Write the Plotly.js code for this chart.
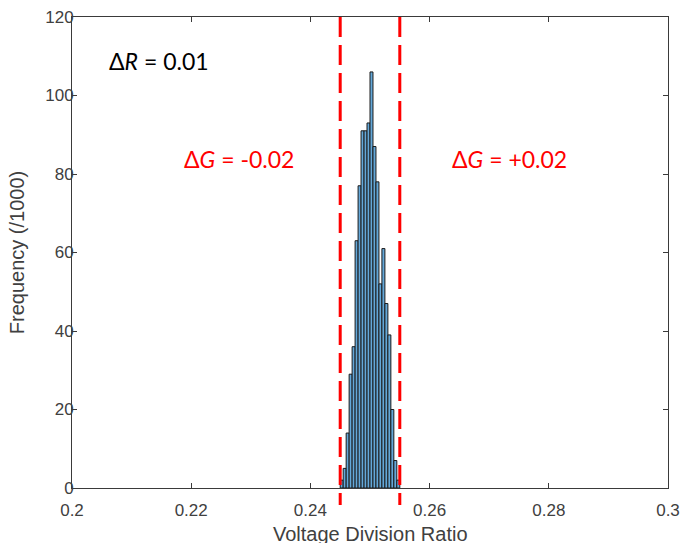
<!DOCTYPE html>
<html>
<head>
<meta charset="utf-8">
<script src="https://cdn.plot.ly/plotly-3.0.1.min.js"></script>
<style>html,body{margin:0;padding:0;background:#fff;}#chart{width:685px;height:543px;}</style>
</head>
<body>
<div id="chart"></div>
<script>
// Histogram bins (Voltage Division Ratio), bin width 0.0005
const binCenters = [0.24525,0.24575,0.24625,0.24675,0.24725,0.24775,0.24825,0.24875,0.24925,0.24975,
                    0.25025,0.25075,0.25125,0.25175,0.25225,0.25275,0.25325,0.25375,0.25425,0.25475];
const frequency = [2,5,14,29,36,63,77,91,91,93,106,87,78,52,61,47,39,20,7,2];
const binWidth = 0.0005;
const limitLines = [0.245, 0.255];
const xTicks = [0.2,0.22,0.24,0.26,0.28,0.3];
const yTicks = [0,20,40,60,80,100,120];
const xTitle = 'Voltage Division Ratio';
const yTitle = 'Frequency (/1000)';
const labels = [
  {text: 'Δ<i>R</i> = 0.01', x: 0.2058, y: 108.9, color: '#000000'},
  {text: 'Δ<i>G</i> = -0.02', x: 0.2185, y: 83.9, color: '#FF0000'},
  {text: 'Δ<i>G</i> = +0.02', x: 0.2635, y: 83.9, color: '#FF0000'}
];

const trace = {
  type: 'bar',
  x: binCenters,
  y: frequency,
  width: binWidth,
  marker: {color: '#64A8D9', line: {color: '#1a1a1a', width: 1}},
  hoverinfo: 'x+y'
};

const axisCommon = {
  showline: true, linecolor: '#3a3a3a', linewidth: 1, mirror: 'ticks',
  ticks: 'inside', ticklen: 5, tickcolor: '#3a3a3a', tickwidth: 1,
  showgrid: false, zeroline: false
};

const annots = labels.map(l => ({
  text: l.text, x: l.x, y: l.y, xref: 'x', yref: 'y', xanchor: 'left', yanchor: 'middle',
  showarrow: false, font: {family: 'Lato, Open Sans, sans-serif', size: 23, color: l.color}
}));
// x-axis title (placed as paper annotation so it can sit at the bottom edge like the original)
annots.push({
  text: xTitle, xref: 'paper', yref: 'paper', x: 0.5, y: -0.098, xanchor: 'center', yanchor: 'middle',
  showarrow: false, font: {family: 'Liberation Sans, Arial, sans-serif', size: 20, color: '#404040'}
});

const layout = {
  width: 685, height: 543,
  margin: {l: 72, r: 17, t: 17, b: 55},
  paper_bgcolor: '#ffffff', plot_bgcolor: '#ffffff',
  showlegend: false,
  bargap: 0,
  font: {family: 'Liberation Sans, Arial, sans-serif', color: '#404040'},
  xaxis: Object.assign({}, axisCommon, {
    range: [0.2, 0.3], tickvals: xTicks, ticktext: xTicks.map(String),
    tickfont: {size: 17, color: '#404040'}, ticklabelstandoff: 7
  }),
  yaxis: Object.assign({}, axisCommon, {
    range: [0, 120], tickvals: yTicks, ticktext: yTicks.map(String),
    tickfont: {size: 17, color: '#404040'}, ticklabelstandoff: -6,
    title: {text: yTitle, font: {size: 20, color: '#404040'}, standoff: 15}
  }),
  shapes: limitLines.map(v => ({
    type: 'line', xref: 'x', yref: 'paper', x0: v, x1: v, y0: 1, y1: -0.036,
    line: {color: '#FF0000', width: 3, dash: '20px,8px'}
  })),
  annotations: annots
};

Plotly.newPlot('chart', [trace], layout, {displayModeBar: false, staticPlot: true});
</script>
</body>
</html>
